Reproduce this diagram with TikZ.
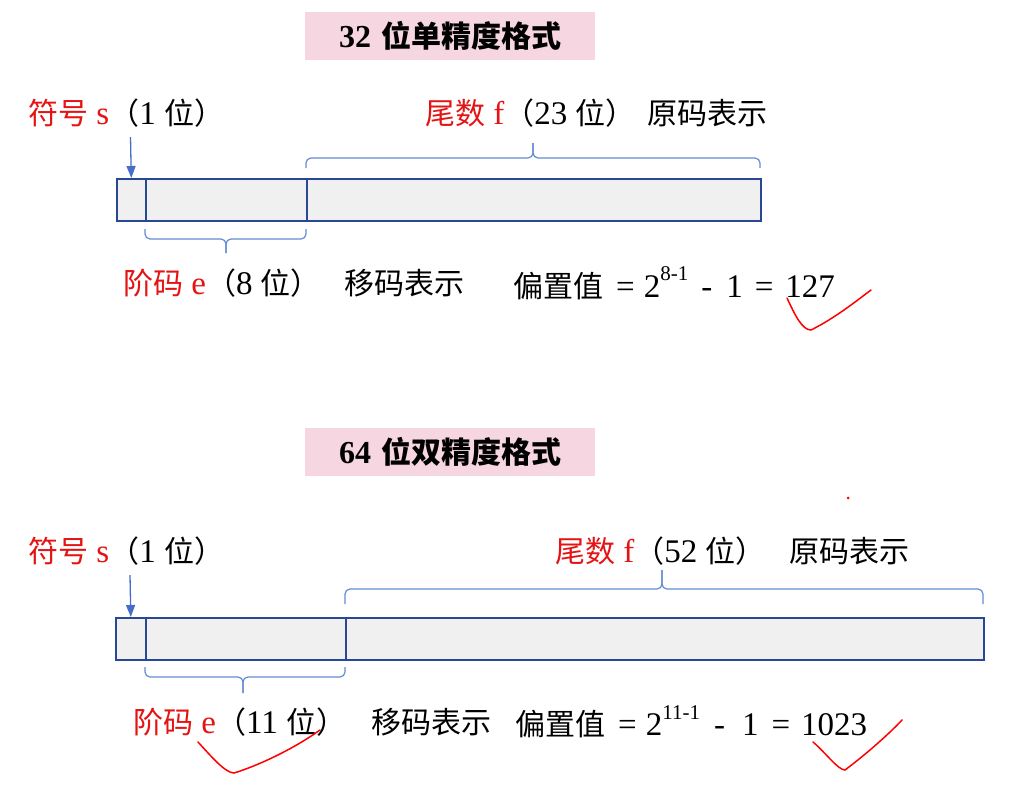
\documentclass[tikz,border=0pt]{standalone}
\usepackage{fontspec}
\setmainfont{Liberation Serif}
\newfontfamily\cjk{Noto Sans CJK SC}
\usetikzlibrary{arrows.meta}
\definecolor{barblue}{RGB}{40,72,150}
\definecolor{braceblue}{RGB}{100,140,210}
\definecolor{arrowblue}{RGB}{70,110,200}
\definecolor{titlepink}{RGB}{246,214,224}
\definecolor{cellgray}{RGB}{240,240,240}
\definecolor{lblred}{RGB}{228,20,20}
\newcommand{\zh}[1]{{\cjk\fontsize{30}{34}\selectfont #1}}
\newcommand{\supr}[1]{\raisebox{0.5em}{\fontsize{21}{21}\selectfont #1}}
\begin{document}
\begin{tikzpicture}[x=1pt,y=-1pt,
  cell/.style={draw=barblue, line width=1.6pt, fill=cellgray, minimum height=42pt, inner sep=0pt, anchor=north west},
  title/.style={fill=titlepink, minimum width=290pt, minimum height=48pt, inner sep=0pt, font=\fontsize{32}{34}\selectfont\bfseries},
  lbl/.style={anchor=west, inner sep=0pt, font=\fontsize{33}{36}\selectfont},
  brace/.style={draw=braceblue, line width=1.2pt, rounded corners=5pt},
  sarrow/.style={draw=arrowblue, line width=1.3pt, -{Triangle[length=12pt,width=9pt]}},
  check/.style={draw=red, line width=1.5pt, line cap=round}]
\useasboundingbox[fill=white] (0,0) rectangle (1014,784);

% ---------- 32 bit ----------
\node[title] (t1) at (450,36) {32\hspace{10pt}{\cjk\fontsize{30}{34}\selectfont\bfseries 位单精度格式}};
\node[cell, minimum width=29pt] (s1) at (116,178) {};
\node[cell, minimum width=161pt] (e1) at (145,178) {};
\node[cell, minimum width=454pt] (f1) at (306,178) {};

\node[lbl] (ls1) at (28,113) {{\color{lblred}\zh{符号} s}\zh{（}1 \zh{位）}};
\node[lbl] (lf1) at (425,113) {{\color{lblred}\zh{尾数} f}\zh{（}23 \zh{位）}\hspace{12pt}\zh{原码表示}};
\node[lbl] (le1) at (123,283) {{\color{lblred}\zh{阶码} e}\zh{（}8 \zh{位）}\hspace{24pt}\zh{移码表示}};
\node[lbl] (lb1) at (513,283) {\zh{偏置值}\hspace{13pt}=\hspace{9pt}2\supr{8-1}\hspace{13pt}-\hspace{14pt}1\hspace{12pt}=\hspace{12pt}127};

\coordinate (a1) at (130.5,137);
\draw[sarrow] (a1) -- (s1.north);
\draw[brace] (306,168) |- (533,158) -- (533,143);
\draw[brace] (533,143) -- (533,158) -| (760,168);
\draw[brace] (145,229) |- (226,239) -- (226,253);
\draw[brace] (226,253) -- (226,239) -| (306,229);

\draw[check] (787,298) .. controls (795,315) and (802,330) .. (811,330) .. controls (835,318) and (855,302) .. (871,290);

% ---------- 64 bit ----------
\node[title] (t2) at (450,452) {64\hspace{10pt}{\cjk\fontsize{30}{34}\selectfont\bfseries 位双精度格式}};
\node[cell, minimum width=30pt] (s2) at (115,617) {};
\node[cell, minimum width=200pt] (e2) at (145,617) {};
\node[cell, minimum width=638pt] (f2) at (345,617) {};

\node[lbl] (ls2) at (28,551) {{\color{lblred}\zh{符号} s}\zh{（}1 \zh{位）}};
\node[lbl] (lf2) at (555,551) {{\color{lblred}\zh{尾数} f}\zh{（}52 \zh{位）}\hspace{24pt}\zh{原码表示}};
\node[lbl] (le2) at (133,722) {{\color{lblred}\zh{阶码} e}\zh{（}11 \zh{位）}\hspace{25pt}\zh{移码表示}};
\node[lbl] (lb2) at (515,722) {\zh{偏置值}\hspace{13pt}=\hspace{9pt}2\supr{11-1}\hspace{14pt}-\hspace{17pt}1\hspace{13pt}=\hspace{11pt}1023};

\coordinate (a2) at (130,575);
\draw[sarrow] (a2) -- (s2.north);
\draw[brace] (345,604) |- (662,589) -- (662,570);
\draw[brace] (662,570) -- (662,589) -| (983,604);
\draw[brace] (145,667) |- (243,677) -- (243,693);
\draw[brace] (243,693) -- (243,677) -| (345,667);

\draw[check] (198,742) .. controls (210,755) and (225,773) .. (234,773) .. controls (260,765) and (295,748) .. (320,730);
\draw[check] (813,742) .. controls (825,752) and (838,770) .. (845,770) .. controls (865,755) and (888,735) .. (902,720);
\fill[red] (848,498) circle (1.5pt);
\end{tikzpicture}
\end{document}
